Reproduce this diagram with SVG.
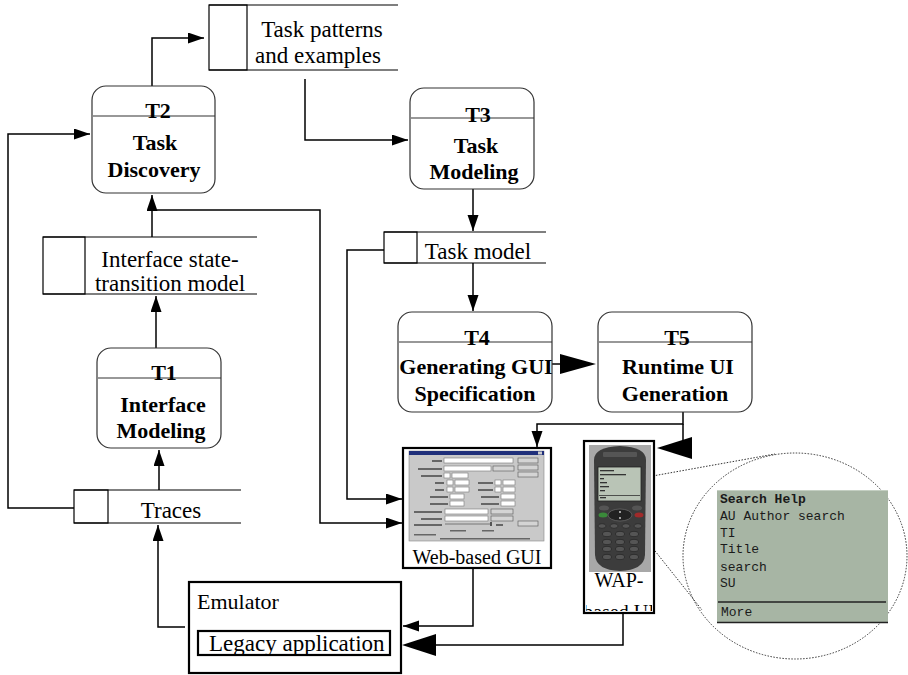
<svg xmlns="http://www.w3.org/2000/svg" width="908" height="675" viewBox="0 0 908 675">
  <style>
    .node{fill:#fff;stroke:#333;stroke-width:1.2}
    .sep{stroke:#333;stroke-width:1.2}
    .store{fill:none;stroke:#000;stroke-width:1.2}
    .conn{fill:none;stroke:#000;stroke-width:1.5}
    .lbl{font-family:"Liberation Serif","Times New Roman",serif;font-weight:bold;font-size:22px;text-anchor:middle;fill:#000}
    .st{font-family:"Liberation Serif","Times New Roman",serif;font-size:23px;text-anchor:middle;fill:#000}
    .box{fill:#fff;stroke:#000;stroke-width:2.2}
    .mono{font-family:"Liberation Mono","Courier New",monospace;font-size:13px;fill:#1a1a1a}
    .ui{fill:#fff;stroke:#777;stroke-width:0.6}
    .btn{fill:#d4d4d4;stroke:#555;stroke-width:0.6}
    .lab{fill:#666}
    .key{fill:#555;stroke:#222;stroke-width:0.6}
    .dot{fill:none;stroke:#333;stroke-width:1;stroke-dasharray:1.5 1.5}
  </style>
  <defs>
    <marker id="ah" markerUnits="userSpaceOnUse" markerWidth="17" markerHeight="12" refX="16" refY="5.5" orient="auto">
      <path d="M0,0 L16,5.5 L0,11 z" fill="#000"/>
    </marker>
    <clipPath id="phoneClip"><rect x="586" y="443" width="66" height="168"/></clipPath>
  </defs>
  <rect width="908" height="675" fill="#fff"/>

  <!-- connectors -->
  <g id="connectors">
    <path class="conn" d="M152,86 V38 H204" marker-end="url(#ah)"/>
    <path class="conn" d="M305,79 V140 H408" marker-end="url(#ah)"/>
    <path class="conn" d="M473,189 V231" marker-end="url(#ah)"/>
    <path class="conn" d="M473,263 V311" marker-end="url(#ah)"/>
    <path class="conn" d="M552,364 H562"/>
    <polygon points="560,354 596,364 560,374" fill="#000"/>
    <path class="conn" d="M683,412 V424 H537 V447" marker-end="url(#ah)"/>
    <path class="conn" d="M683,424 V446"/>
    <polygon points="657,448 692,437 692,459" fill="#000"/>
    <path class="conn" d="M384,250 H347 V499 H402" marker-end="url(#ah)"/>
    <path class="conn" d="M152,237 V195" marker-end="url(#ah)"/>
    <path class="conn" d="M152,210 H320 V523 H402" marker-end="url(#ah)"/>
    <path class="conn" d="M156,348 V296" marker-end="url(#ah)"/>
    <path class="conn" d="M159,490 V450" marker-end="url(#ah)"/>
    <path class="conn" d="M74,508 H8 V134 H90" marker-end="url(#ah)"/>
    <path class="conn" d="M185,627 H158 V525" marker-end="url(#ah)"/>
    <path class="conn" d="M473,568 V626 H403" marker-end="url(#ah)"/>
    <path class="conn" d="M623,613 V645 H434"/>
    <polygon points="402,645 436,634 436,656" fill="#000"/>
    <!-- zoom lens lines -->
    <line class="dot" x1="647" y1="477" x2="775" y2="454"/>
    <line class="dot" x1="597" y1="478" x2="702" y2="610"/>
  </g>

  <!-- processes -->
  <g id="T2">
    <rect class="node" x="92" y="86" width="123" height="107" rx="14"/>
    <line class="sep" x1="93" y1="116" x2="215" y2="116"/>
    <text class="lbl" x="158" y="118">T2</text>
    <text class="lbl" x="155" y="150">Task</text>
    <text class="lbl" x="154" y="177">Discovery</text>
  </g>
  <g id="T3">
    <rect class="node" x="410" y="88" width="124" height="101" rx="14"/>
    <line class="sep" x1="411" y1="118" x2="534" y2="118"/>
    <text class="lbl" x="478" y="122">T3</text>
    <text class="lbl" x="476" y="153">Task</text>
    <text class="lbl" x="474" y="179">Modeling</text>
  </g>
  <g id="T1">
    <rect class="node" x="97" y="348" width="124" height="100" rx="14"/>
    <line class="sep" x1="98" y1="378" x2="221" y2="378"/>
    <text class="lbl" x="164" y="380">T1</text>
    <text class="lbl" x="163" y="412">Interface</text>
    <text class="lbl" x="161" y="438">Modeling</text>
  </g>
  <g id="T4">
    <rect class="node" x="398" y="312" width="154" height="100" rx="14"/>
    <line class="sep" x1="399" y1="342" x2="552" y2="342"/>
    <text class="lbl" x="477" y="345">T4</text>
    <text class="lbl" x="476" y="374">Generating GUI</text>
    <text class="lbl" x="475" y="401">Specification</text>
  </g>
  <g id="T5">
    <rect class="node" x="598" y="312" width="154" height="100" rx="14"/>
    <line class="sep" x1="599" y1="342" x2="752" y2="342"/>
    <text class="lbl" x="677" y="345">T5</text>
    <text class="lbl" x="678" y="374">Runtime UI</text>
    <text class="lbl" x="675" y="401">Generation</text>
  </g>

  <!-- data stores -->
  <g id="store-patterns">
    <rect class="store" x="209" y="5" width="38" height="65"/>
    <path class="store" d="M209,5 H398 M209,70 H398"/>
    <text class="st" x="322" y="37">Task patterns</text>
    <text class="st" x="318" y="63">and examples</text>
  </g>
  <g id="store-interface">
    <rect class="store" x="43" y="237" width="42" height="57"/>
    <path class="store" d="M43,237 H257 M43,294 H257"/>
    <text class="st" x="170" y="267" font-size="22">Interface state-</text>
    <text class="st" x="170" y="291" font-size="22">transition model</text>
  </g>
  <g id="store-traces">
    <rect class="store" x="74" y="490" width="34" height="33"/>
    <path class="store" d="M74,490 H241 M74,523 H241"/>
    <text class="st" x="171" y="518">Traces</text>
  </g>
  <g id="store-taskmodel">
    <rect class="store" x="384" y="232" width="33" height="31"/>
    <path class="store" d="M384,232 H546 M384,263 H546"/>
    <text class="st" x="478" y="259">Task model</text>
  </g>

  <!-- emulator -->
  <g id="emulator">
    <rect class="box" x="189" y="582" width="212" height="91" stroke-width="2.5"/>
    <text x="197" y="609" font-family="Liberation Serif, Times New Roman, serif" font-size="22" fill="#000">Emulator</text>
    <rect class="box" x="198" y="631" width="192" height="24"/>
    <text x="209" y="651" font-family="Liberation Serif, Times New Roman, serif" font-size="23" fill="#000">Legacy application</text>
  </g>

  <!-- web GUI -->
  <g id="web-gui">
    <rect class="box" x="403" y="448" width="148" height="120"/>
    <rect x="409" y="451" width="135" height="90" fill="#c9c9c9" stroke="#888" stroke-width="0.6"/>
    <rect x="409" y="451" width="135" height="4" fill="#1f2f7a"/>
    <rect x="538" y="451.5" width="4" height="3" fill="#ccc"/>
    <!-- buttons -->
    <rect class="btn" x="518" y="458" width="20" height="5"/>
    <rect class="btn" x="518" y="465" width="20" height="5"/>
    <rect class="btn" x="518" y="472" width="20" height="5"/>
    <rect class="btn" x="518" y="521" width="20" height="5"/>
    <!-- fields -->
    <rect class="lab" x="432" y="460" width="10" height="2"/>
    <rect class="ui" x="444" y="458" width="69" height="5"/>
    <rect class="lab" x="418" y="468" width="24" height="2"/>
    <rect class="ui" x="444" y="466" width="47" height="5"/>
    <rect class="btn" x="493" y="466" width="21" height="5"/>
    <rect class="lab" x="421" y="475" width="21" height="2"/>
    <rect class="ui" x="444" y="473" width="6" height="5"/>
    <rect class="ui" x="452" y="473" width="16" height="5"/>
    <rect class="lab" x="435" y="482" width="9" height="2"/>
    <rect class="ui" x="447" y="480" width="6" height="5"/>
    <rect class="ui" x="455" y="480" width="14" height="5"/>
    <rect class="lab" x="478" y="482" width="15" height="2"/>
    <rect class="ui" x="495" y="480" width="6" height="5"/>
    <rect class="ui" x="503" y="480" width="12" height="5"/>
    <rect class="lab" x="435" y="489" width="9" height="2"/>
    <rect class="ui" x="447" y="487" width="6" height="5"/>
    <rect class="ui" x="455" y="487" width="14" height="5"/>
    <rect class="lab" x="478" y="489" width="15" height="2"/>
    <rect class="ui" x="495" y="487" width="6" height="5"/>
    <rect class="ui" x="503" y="487" width="12" height="5"/>
    <rect class="lab" x="430" y="496" width="18" height="2"/>
    <rect class="ui" x="450" y="494" width="14" height="5"/>
    <rect class="lab" x="481" y="496" width="18" height="2"/>
    <rect class="ui" x="501" y="494" width="14" height="5"/>
    <rect class="lab" x="430" y="503" width="18" height="2"/>
    <rect class="ui" x="450" y="501" width="14" height="5"/>
    <rect class="lab" x="481" y="503" width="18" height="2"/>
    <rect class="ui" x="501" y="501" width="14" height="5"/>
    <rect class="lab" x="414" y="511" width="28" height="2"/>
    <rect class="ui" x="445" y="509" width="43" height="5"/>
    <rect class="btn" x="491" y="509" width="22" height="5"/>
    <rect class="lab" x="421" y="518" width="21" height="2"/>
    <rect class="ui" x="445" y="516" width="43" height="5"/>
    <rect class="btn" x="491" y="516" width="22" height="5"/>
    <rect class="lab" x="414" y="524" width="28" height="2"/>
    <line x1="445" y1="524" x2="490" y2="524" stroke="#777" stroke-width="1"/>
    <rect x="490" y="522" width="2" height="4" fill="#555"/>
    <rect class="lab" x="496" y="524" width="7" height="2"/>
    <rect class="lab" x="450" y="530" width="16" height="1.5"/>
    <rect class="lab" x="482" y="530" width="12" height="1.5"/>
    <rect class="lab" x="414" y="534" width="22" height="1.5"/>
    <rect class="lab" x="440" y="538" width="90" height="1.5"/>
    <text x="477" y="564" font-family="Liberation Serif, Times New Roman, serif" font-size="20" text-anchor="middle" fill="#000">Web-based GUI</text>
  </g>

  <!-- WAP phone -->
  <g id="wap-ui">
    <rect class="box" x="584" y="441" width="70" height="172"/>
    <rect x="589" y="445" width="62" height="127" fill="#a8a8a8"/>
    <path d="M594,460 Q594,447 620,446 Q646,447 646,460 L645,555 Q644,570 620,571 Q596,570 595,555 Z" fill="#3c3c3c"/>
    <rect x="603" y="452" width="34" height="5" rx="1" fill="#555"/>
    <rect x="598" y="467" width="43" height="34" fill="#b9c4b6" stroke="#222" stroke-width="0.8"/>
    <g fill="#333">
      <rect x="600" y="470" width="14" height="1.3"/>
      <rect x="600" y="474" width="26" height="1.3"/>
      <rect x="600" y="478" width="4" height="1.3"/>
      <rect x="600" y="482" width="7" height="1.3"/>
      <rect x="600" y="486" width="9" height="1.3"/>
      <rect x="600" y="490" width="5" height="1.3"/>
      <rect x="599" y="495" width="41" height="0.8"/>
      <rect x="600" y="497" width="6" height="1.3"/>
    </g>
    <ellipse cx="604" cy="508" rx="5" ry="2.5" fill="#555"/>
    <ellipse cx="637" cy="508" rx="5" ry="2.5" fill="#555"/>
    <ellipse cx="603" cy="515" rx="4.5" ry="2.5" fill="#3a8a3a"/>
    <ellipse cx="639" cy="515" rx="4.5" ry="2.5" fill="#a02a2a"/>
    <ellipse cx="620" cy="515" rx="12" ry="6" fill="#222" stroke="#777" stroke-width="0.6"/>
    <circle cx="620" cy="512" r="0.9" fill="#ddd"/>
    <circle cx="620" cy="518" r="0.9" fill="#ddd"/>
    <g>
      <ellipse class="key" cx="602" cy="526" rx="4" ry="2.3"/>
      <ellipse class="key" cx="614" cy="526" rx="4" ry="2.3"/>
      <ellipse class="key" cx="626" cy="526" rx="4" ry="2.3"/>
      <ellipse class="key" cx="638" cy="526" rx="4" ry="2.3"/>
      <ellipse class="key" cx="607" cy="534" rx="4.5" ry="2.6"/>
      <ellipse class="key" cx="620" cy="534" rx="4.5" ry="2.6"/>
      <ellipse class="key" cx="634" cy="534" rx="4.5" ry="2.6"/>
      <ellipse class="key" cx="607" cy="542" rx="4.5" ry="2.6"/>
      <ellipse class="key" cx="620" cy="542" rx="4.5" ry="2.6"/>
      <ellipse class="key" cx="634" cy="542" rx="4.5" ry="2.6"/>
      <ellipse class="key" cx="607" cy="549" rx="4.5" ry="2.6"/>
      <ellipse class="key" cx="620" cy="549" rx="4.5" ry="2.6"/>
      <ellipse class="key" cx="634" cy="549" rx="4.5" ry="2.6"/>
      <ellipse class="key" cx="607" cy="557" rx="4.5" ry="2.6"/>
      <ellipse class="key" cx="620" cy="557" rx="4.5" ry="2.6"/>
      <ellipse class="key" cx="634" cy="557" rx="4.5" ry="2.6"/>
    </g>
    <text x="619" y="587" font-family="Liberation Serif, Times New Roman, serif" font-size="20" text-anchor="middle" fill="#000">WAP-</text>
    <text x="619" y="619" clip-path="url(#phoneClip)" font-family="Liberation Serif, Times New Roman, serif" font-size="20" text-anchor="middle" fill="#000">based UI</text>
  </g>

  <!-- magnified phone screen -->
  <g id="screen-zoom">
    <ellipse class="dot" cx="795" cy="556" rx="112" ry="103"/>
    <rect x="717" y="490" width="171" height="133" fill="#a7b5a4"/>
    <line x1="717" y1="490.5" x2="888" y2="490.5" stroke="#c4cfc2" stroke-width="1"/>
    <text class="mono" x="720" y="503" font-weight="bold">Search Help</text>
    <text class="mono" x="720" y="520">AU Author search</text>
    <text class="mono" x="720" y="537">TI</text>
    <text class="mono" x="720" y="553">Title</text>
    <text class="mono" x="720" y="571">search</text>
    <text class="mono" x="720" y="587">SU</text>
    <line x1="718" y1="602" x2="886" y2="602" stroke="#222" stroke-width="1.5"/>
    <text class="mono" x="721" y="616">More</text>
    <line x1="717" y1="622.5" x2="888" y2="622.5" stroke="#222" stroke-width="1.5"/>
  </g>
</svg>
